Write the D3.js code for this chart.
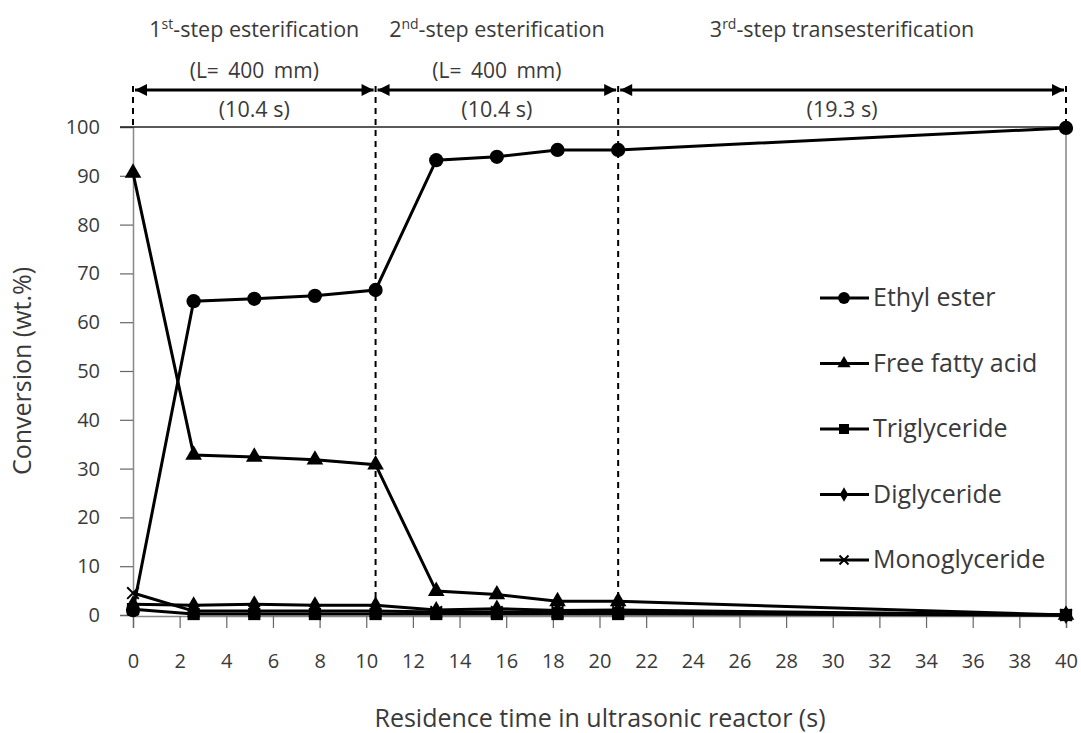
<!DOCTYPE html>
<html>
<head>
<meta charset="utf-8">
<script src="https://cdn.jsdelivr.net/npm/d3@7"></script>
<style>
  body { margin: 0; background: #fff; }
  text { font-family: "Open Sans", "Noto Sans", sans-serif; fill: #3a3a3a; }
</style>
</head>
<body>
<div id="chart"></div>
<script>
// residence time (s) for every sample
const times = [0, 2.6, 5.2, 7.8, 10.4, 13, 15.6, 18.2, 20.8, 40];

// conversion wt.% per compound
const ethylEster    = [1, 64.3, 64.8, 65.4, 66.6, 93.2, 93.9, 95.3, 95.3, 99.8];
const freeFattyAcid = [90.6, 32.8, 32.4, 31.8, 30.8, 4.9, 4.2, 2.8, 2.8, 0];
const triglyceride  = [1.2, 0.2, 0.2, 0.2, 0.2, 0.2, 0.2, 0.2, 0.2, 0];
const diglyceride   = [2.2, 2.0, 2.2, 2.0, 2.0, 1.0, 1.3, 0.9, 1.0, 0];
const monoglyceride = [4.5, 0.8, 0.8, 0.8, 0.8, 0.6, 0.6, 0.6, 0.6, 0];

const seriesNames = ["Ethyl ester", "Free fatty acid", "Triglyceride", "Diglyceride", "Monoglyceride"];

const xTicks = d3.range(0, 41, 2);
const yTicks = d3.range(0, 101, 10);

// reactor steps: boundaries and labels
const stepBounds = [0, 10.4, 20.8, 40];
const stepNum = ["1", "2", "3"];
const stepSup = ["st", "nd", "rd"];
const stepName = ["-step esterification", "-step esterification", "-step transesterification"];
const stepLength = ["(L= 400 mm)", "(L= 400 mm)", ""];
const stepTime = ["(10.4 s)", "(10.4 s)", "(19.3 s)"];

const width = 1081, height = 733;

const svg = d3.select("#chart").append("svg")
    .attr("width", width)
    .attr("height", height);

const x = d3.scaleLinear().domain([0, 40]).range([133, 1066]);
const y = d3.scaleLinear().domain([0, 100]).range([615, 127]);

// arrow head
svg.append("defs").append("marker")
    .attr("id", "arrow")
    .attr("viewBox", "0 0 10 10")
    .attr("refX", 10).attr("refY", 5)
    .attr("markerWidth", 5).attr("markerHeight", 4)
    .attr("markerUnits", "strokeWidth")
    .attr("orient", "auto-start-reverse")
    .append("path")
    .attr("d", "M0,0 L10,5 L0,10 Z")
    .attr("fill", "#000");

// y axis
const yAxis = svg.append("g")
    .attr("transform", "translate(" + x(0) + ",0)")
    .call(d3.axisLeft(y).tickValues(yTicks).tickSize(13).tickPadding(20));
yAxis.select(".domain").attr("stroke", "#888").attr("stroke-width", 1.5);
yAxis.selectAll(".tick line").attr("stroke", "#666").attr("stroke-width", 1.2);
yAxis.selectAll(".tick text").style("font-size", "20px").attr("fill", "#3a3a3a");

// x axis
const xAxis = svg.append("g")
    .attr("transform", "translate(0," + (y(0) + 1) + ")")
    .call(d3.axisBottom(x).tickValues(xTicks).tickSize(12).tickPadding(26));
xAxis.select(".domain").attr("stroke", "#888").attr("stroke-width", 1.5);
xAxis.selectAll(".tick line").attr("stroke", "#666").attr("stroke-width", 1.2);
xAxis.selectAll(".tick text").style("font-size", "20px").attr("fill", "#3a3a3a");

// top line at 100 and right border
svg.append("line")
    .attr("x1", x(0) - 13).attr("x2", x(40))
    .attr("y1", y(100)).attr("y2", y(100))
    .attr("stroke", "#222").attr("stroke-width", 1.5);
svg.append("line")
    .attr("x1", x(40)).attr("x2", x(40))
    .attr("y1", y(100)).attr("y2", y(0))
    .attr("stroke", "#666").attr("stroke-width", 1.2);

// dashed step boundaries
stepBounds.forEach(function (b, i) {
    let inner = i > 0 && i < stepBounds.length - 1;
    svg.append("line")
        .attr("x1", x(b)).attr("x2", x(b))
        .attr("y1", 86).attr("y2", inner ? y(0) : y(100))
        .attr("stroke", "#000")
        .attr("stroke-width", 2)
        .attr("stroke-dasharray", "6,5");
});

// step arrows and labels
for (let i = 0; i < 3; i++) {
    let x0 = x(stepBounds[i]), x1 = x(stepBounds[i + 1]);
    let cx = (x0 + x1) / 2;
    svg.append("line")
        .attr("x1", x0 + 2).attr("x2", x1 - 2)
        .attr("y1", 90).attr("y2", 90)
        .attr("stroke", "#000")
        .attr("stroke-width", 3)
        .attr("marker-start", "url(#arrow)")
        .attr("marker-end", "url(#arrow)");

    let title = svg.append("text")
        .attr("x", cx).attr("y", 37)
        .attr("text-anchor", "middle")
        .style("font-size", "21.5px");
    title.append("tspan").text(stepNum[i]);
    title.append("tspan").text(stepSup[i]).attr("dy", -8).style("font-size", "14px");
    title.append("tspan").text(stepName[i]).attr("dy", 8);

    if (stepLength[i]) {
        svg.append("text")
            .attr("x", cx).attr("y", 78)
            .attr("text-anchor", "middle")
            .style("font-size", "21px")
            .style("word-spacing", "4px")
            .text(stepLength[i]);
    }
    svg.append("text")
        .attr("x", cx).attr("y", 117)
        .attr("text-anchor", "middle")
        .style("font-size", "21.5px")
        .text(stepTime[i]);
}

// axis titles
svg.append("text")
    .attr("transform", "translate(31," + y(50) + ") rotate(-90)")
    .attr("text-anchor", "middle")
    .style("font-size", "25px")
    .text("Conversion (wt.%)");
svg.append("text")
    .attr("x", 600).attr("y", 727)
    .attr("text-anchor", "middle")
    .style("font-size", "25px")
    .text("Residence time in ultrasonic reactor (s)");

// series
const seriesValues = [ethylEster, freeFattyAcid, triglyceride, diglyceride, monoglyceride];
const symbols = [d3.symbolCircle, d3.symbolTriangle, d3.symbolSquare, d3.symbolDiamond, d3.symbolX];
const sizes = [160, 120, 150, 95, 90];
const legendSizes = [110, 75, 100, 60, 55];

const line = d3.line()
    .x(d => x(d.t))
    .y(d => y(d.v));

// squares drawn late so they stay on top at the bottom of the plot
const order = [4, 3, 1, 2, 0];
order.forEach(function (s) {
    let pts = times.map((t, i) => ({ t: t, v: seriesValues[s][i] }));
    svg.append("path")
        .datum(pts)
        .attr("d", line)
        .attr("fill", "none")
        .attr("stroke", "#000")
        .attr("stroke-width", 3);
});
order.forEach(function (s) {
    let pts = times.map((t, i) => ({ t: t, v: seriesValues[s][i] }));
    let isX = symbols[s] === d3.symbolX;
    svg.selectAll(".m" + s)
        .data(pts)
        .enter()
        .append("path")
        .attr("class", "m" + s)
        .attr("transform", d => "translate(" + x(d.t) + "," + y(d.v) + ")")
        .attr("d", d3.symbol().type(symbols[s]).size(sizes[s]))
        .attr("fill", isX ? "none" : "#000")
        .attr("stroke", "#000")
        .attr("stroke-width", isX ? 2 : 0);
});

// legend
const legend = svg.append("g");
seriesNames.forEach(function (name, i) {
    let ly = 298 + i * 65.5;
    legend.append("line")
        .attr("x1", 820).attr("x2", 869)
        .attr("y1", ly).attr("y2", ly)
        .attr("stroke", "#000").attr("stroke-width", 3);
    let isX = symbols[i] === d3.symbolX;
    legend.append("path")
        .attr("transform", "translate(844," + ly + ")")
        .attr("d", d3.symbol().type(symbols[i]).size(legendSizes[i]))
        .attr("fill", isX ? "none" : "#000")
        .attr("stroke", "#000")
        .attr("stroke-width", isX ? 2 : 0);
    legend.append("text")
        .attr("x", 873).attr("y", ly + 8)
        .style("font-size", "25px")
        .text(name);
});
</script>
</body>
</html>
